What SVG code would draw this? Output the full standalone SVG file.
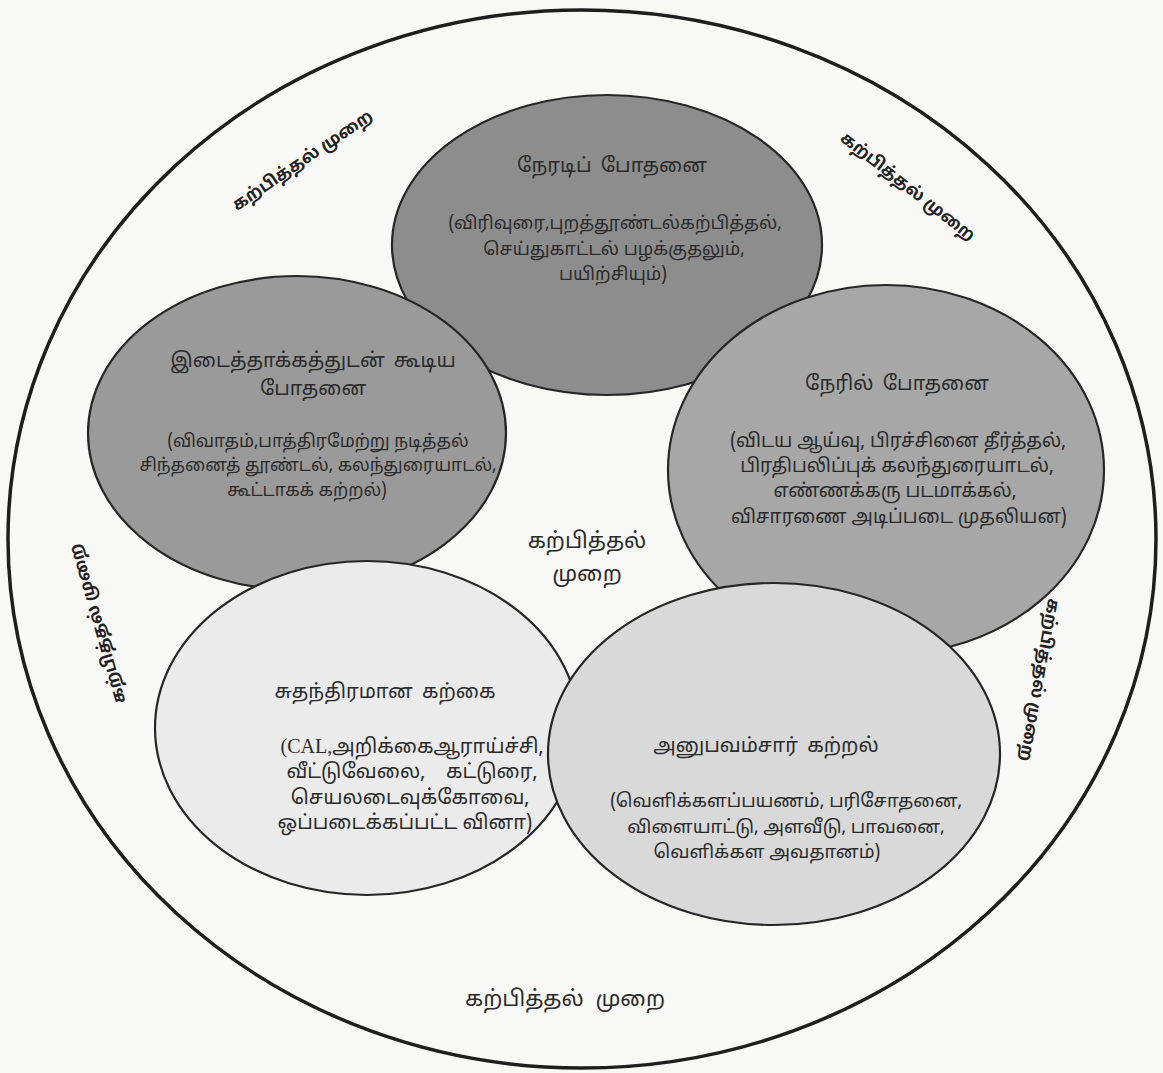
<svg xmlns="http://www.w3.org/2000/svg" width="1163" height="1073" viewBox="0 0 1163 1073">
<style>
.c{stroke:#262626;stroke-width:2.2}
.t{font-family:"Noto Sans Tamil","Latha","Lohit Tamil","Noto Serif Tamil","Noto Sans",sans-serif;fill:#2b2b2b;text-anchor:middle}
.h{font-size:20px;word-spacing:4px}
.big{font-size:22px;word-spacing:6px}
.r{font-size:17px;font-weight:bold;fill:#222}
.lat{font-family:"Liberation Serif",serif}
</style>
<rect width="1163" height="1073" fill="#f8f8f7"/>
<ellipse id="outer" cx="582" cy="539" rx="574" ry="529" fill="none" stroke="#1e1e1e" stroke-width="3.5"/>
<g id="node-top">
<ellipse class="c" cx="607" cy="245" rx="215" ry="150" fill="#8d8d8d"/>
<text class="t h" x="612" y="172">நேரடிப் போதனை</text>
<g font-size="18">
<text class="t" x="615" y="229">(விரிவுரை,புறத்தூண்டல்கற்பித்தல்,</text>
<text class="t" x="614" y="255">செய்துகாட்டல் பழக்குதலும்,</text>
<text class="t" x="613" y="280">பயிற்சியும்)</text>
</g>
</g>
<g id="node-left">
<ellipse class="c" cx="297" cy="433" rx="209" ry="157" fill="#9a9a9a"/>
<text class="t h" x="313" y="367">இடைத்தாக்கத்துடன் கூடிய</text>
<text class="t h" x="313" y="395">போதனை</text>
<g font-size="17.5">
<text class="t" x="318" y="447">(விவாதம்,பாத்திரமேற்று நடித்தல்</text>
<text class="t" x="318" y="471">சிந்தனைத் தூண்டல், கலந்துரையாடல்,</text>
<text class="t" x="307" y="496">கூட்டாகக் கற்றல்)</text>
</g>
</g>
<g id="node-right">
<ellipse class="c" cx="886" cy="470" rx="218" ry="185" fill="#a7a7a7"/>
<text class="t h" x="897" y="390" font-size="21">நேரில் போதனை</text>
<g font-size="19">
<text class="t" x="898" y="447">(விடய ஆய்வு, பிரச்சினை தீர்த்தல்,</text>
<text class="t" x="897" y="472">பிரதிபலிப்புக் கலந்துரையாடல்,</text>
<text class="t" x="895" y="497">எண்ணக்கரு படமாக்கல்,</text>
<text class="t" x="899" y="523">விசாரணை அடிப்படை முதலியன)</text>
</g>
</g>
<g id="node-bottom-left">
<ellipse class="c" cx="367" cy="728" rx="212" ry="167" fill="#ebebeb"/>
<text class="t h" x="385" y="698">சுதந்திரமான கற்கை</text>
<g font-size="20">
<text class="t" x="412" y="753"><tspan class="lat">(CAL,</tspan>அறிக்கைஆராய்ச்சி,</text>
<text class="t" x="412" y="778" xml:space="preserve">வீட்டுவேலை,    கட்டுரை,</text>
<text class="t" x="410" y="804">செயலடைவுக்கோவை,</text>
<text class="t" x="405" y="829">ஒப்படைக்கப்பட்ட வினா)</text>
</g>
</g>
<g id="node-bottom-right">
<ellipse class="c" cx="774" cy="754" rx="226" ry="171" fill="#d9d9d9"/>
<text class="t h" x="766" y="752" font-size="19">அனுபவம்சார் கற்றல்</text>
<g font-size="18.5">
<text class="t" x="786" y="807">(வெளிக்களப்பயணம், பரிசோதனை,</text>
<text class="t" x="786" y="833">விளையாட்டு, அளவீடு, பாவனை,</text>
<text class="t" x="767" y="858">வெளிக்கள அவதானம்)</text>
</g>
</g>
<g id="center-label">
<text class="t big" x="587" y="548">கற்பித்தல்</text>
<text class="t big" x="587" y="581">முறை</text>
</g>
<g id="ring-labels">
<text class="t r" transform="translate(302,160) rotate(-34)" y="6">கற்பித்தல் முறை</text>
<text class="t r" transform="translate(908,186) rotate(38)" y="6">கற்பித்தல் முறை</text>
<text class="t r" transform="translate(97,624) rotate(-106)" y="6">கற்பித்தல் முறை</text>
<text class="t r" transform="translate(1040,680) rotate(100)" y="6">கற்பித்தல் முறை</text>
<text class="t big" x="565" y="1006">கற்பித்தல் முறை</text>
</g>
</svg>
